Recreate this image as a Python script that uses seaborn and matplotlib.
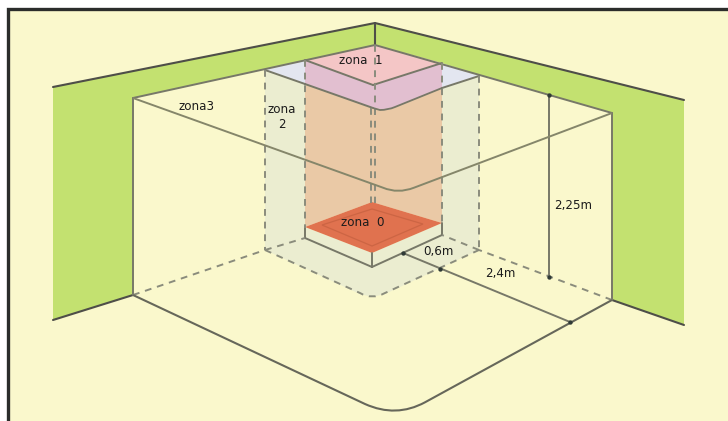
import matplotlib
matplotlib.use("Agg")
import matplotlib.pyplot as plt
from matplotlib.patches import Polygon, PathPatch
from matplotlib.path import Path
import seaborn as sns

sns.set_style("white")
plt.rcParams['font.family'] = ['DejaVu Sans']

# region outlines, in picture coordinates
wall_left = [(53, 87), (375, 23), (375, 45), (133, 98), (133, 295), (53, 320)]
wall_right = [(375, 23), (684, 100), (684, 325), (612, 300), (612, 113), (375, 45)]
zone2_left = [(265, 70), (305, 84), (305, 238), (265, 250)]
zone2_right = [(442, 89), (479, 76), (479, 250), (442, 235)]
zone2_floor = [(265, 250), (305, 238), (372, 267), (442, 235), (479, 250), (385, 294), (372, 297), (360, 294)]
blue_left = [(265, 70), (305, 60), (305, 84)]
blue_right = [(442, 63), (479, 76), (442, 89)]
zone1_top = [(305, 60), (375, 45), (442, 63), (373, 85)]
zone1_band = [(305, 60), (373, 85), (442, 63), (442, 88), (388, 110), (373, 108), (305, 84)]
column = [(305, 84), (373, 108), (388, 110), (442, 88), (442, 223), (372, 202), (305, 227)]
zone0_top = [(305, 227), (372, 202), (442, 223), (372, 253)]
zone0_inner = [(322, 225), (372, 209), (423, 224), (372, 246)]
zone0_base = [(305, 227), (372, 253), (442, 223), (442, 235), (372, 267), (305, 238)]

# darker outer wall edges
wall_edges = [
    [(53, 87), (375, 23)], [(375, 23), (684, 100)], [(375, 23), (375, 45)],
    [(53, 320), (133, 295)], [(612, 300), (684, 325)],
]
# solid lines
solid_lines = [
    [(133, 98), (375, 45)], [(375, 45), (612, 113)],
    [(133, 98), (133, 295)], [(612, 113), (612, 300)],
    [(305, 227), (305, 238)], [(305, 238), (372, 267)], [(372, 267), (442, 235)],
    [(442, 223), (442, 235)], [(372, 253), (372, 267)],
    [(549, 95), (549, 277)], [(403, 253), (570, 322)],
    [(305, 60), (373, 85)], [(373, 85), (442, 63)],
    [(265, 70), (305, 84)], [(305, 84), (373, 108)], [(442, 88), (479, 76)],
]
# dashed lines
dashed_lines = [
    [(265, 70), (265, 250)], [(305, 60), (305, 228)],
    [(442, 63), (442, 223)], [(479, 76), (479, 250)],
    [(375, 45), (375, 203)], [(371, 108), (371, 203)],
    [(133, 295), (265, 250)], [(265, 250), (305, 238)],
    [(612, 300), (479, 250)], [(479, 250), (442, 235)],
]
# rounded runs: start, corner start, control, corner end, finish
zone3_ceiling = [(133, 98), (383, 187.7), (398, 194), (414, 187.7), (612, 113)]
zone3_floor = [(133, 295), (365, 404), (396, 418), (425, 402.3), (612, 300)]
zone2_edge = [(265, 250), (360, 293), (372, 300), (385, 293), (479, 250)]
band_edge = [(373, 108), (380, 110), (388, 110), (395, 107), (442, 88)]
dim_points = [(403, 253), (440, 269), (570, 322), (549, 95), (549, 277)]

labels = ["zona3", "zona\n2", "zona  1", "zona  0", "0,6m", "2,4m", "2,25m"]
label_pos = [(197, 106), (282, 117), (361, 60), (363, 222), (438, 252), (500, 274), (573, 205)]

CODES = [Path.MOVETO, Path.LINETO, Path.CURVE3, Path.CURVE3, Path.LINETO]

fig = plt.figure(figsize=(7.28, 4.21), dpi=100, facecolor="white")
ax = fig.add_axes([0, 0, 1, 1])
ax.set_xlim(0, 728)
ax.set_ylim(421, 0)
ax.axis("off")

ax.add_patch(Polygon([(8, 9), (728, 9), (728, 421), (8, 421)], fc="#FAF8CC", ec="none", zorder=0))
ax.plot([8, 8, 728], [421, 9, 9], color="#2b2d2b", lw=2.4, solid_capstyle="butt", solid_joinstyle="miter", zorder=9)

fills = [
    (wall_left, "#C3E170"), (wall_right, "#C3E170"),
    (zone2_left, "#EBEDD0"), (zone2_right, "#EBEDD0"), (zone2_floor, "#EBEDD0"),
    (blue_left, "#E3E6F0"), (blue_right, "#E3E6F0"),
    (column, "#EAC9A6"), (zone1_band, "#E2BFD0"), (zone1_top, "#F4C6C6"),
    (zone0_base, "#EBEDD0"), (zone0_top, "#E0724F"),
]
for pts, col in fills:
    ax.add_patch(Polygon(pts, fc=col, ec="none", zorder=1))
ax.add_patch(Polygon(zone0_inner, fc="none", ec="#CC6544", lw=0.9, zorder=2))

LINE = "#777868"
for seg in wall_edges:
    xs, ys = zip(*seg)
    ax.plot(xs, ys, color="#4E4E48", lw=1.5, solid_capstyle="round", zorder=3)
for seg in solid_lines:
    xs, ys = zip(*seg)
    ax.plot(xs, ys, color=LINE, lw=1.4, solid_capstyle="round", zorder=3)
for seg in dashed_lines:
    xs, ys = zip(*seg)
    ax.plot(xs, ys, color="#8A8C7C", lw=1.4, dashes=(3.5, 3), zorder=3)

for run, ls, col, width in [
    (zone3_ceiling, "-", "#85866A", 1.4), (zone3_floor, "-", "#66675A", 1.5),
    (zone2_edge, (0, (3.5, 3)), "#8A8C7C", 1.4), (band_edge, "-", LINE, 1.3),
]:
    ax.add_patch(PathPatch(Path(run, CODES), fc="none", ec=col, lw=width, ls=ls, zorder=3))

sx, sy = zip(*dim_points)
ax.scatter(sx, sy, s=10, color="#2f3a36", linewidths=0, zorder=4)

for txt, (x, y) in zip(labels, label_pos):
    ax.text(x, y, txt, ha="center", va="center", fontsize=8.6, color="#1c1c1c",
            linespacing=1.25, zorder=5)

fig.savefig("out.png", dpi=100, facecolor="white")
